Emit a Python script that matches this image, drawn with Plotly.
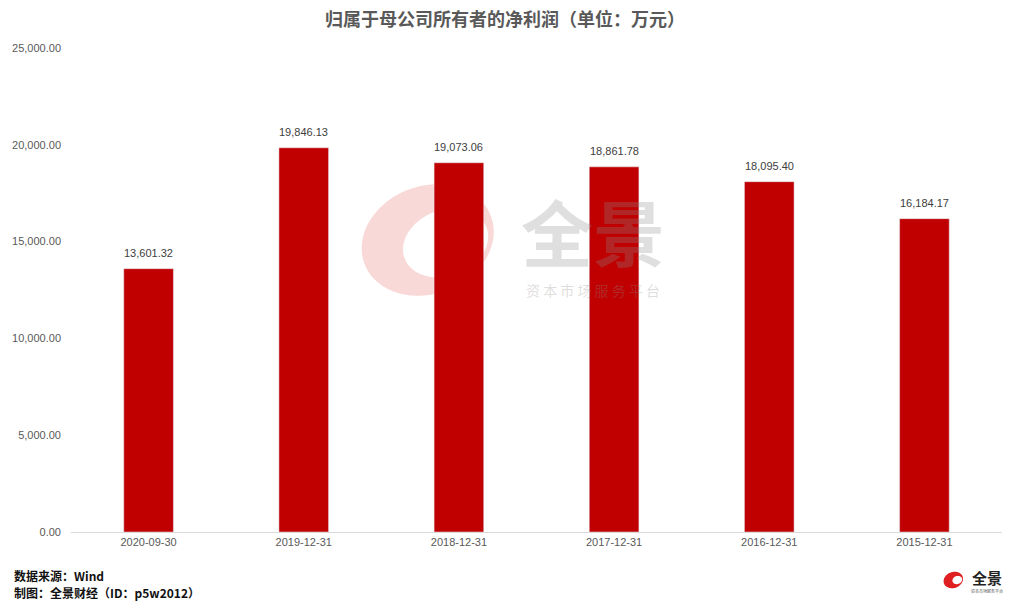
import numpy as np
import plotly.graph_objects as go

categories = ["2020-09-30", "2019-12-31", "2018-12-31", "2017-12-31", "2016-12-31", "2015-12-31"]
values = [13601.32, 19846.13, 19073.06, 18861.78, 18095.40, 16184.17]
y_ticks = [0, 5000, 10000, 15000, 20000, 25000]

W, H = 1015, 601
L, R, T, B = 65, 13, 48, 69
PW, PH = W - L - R, H - T - B

def px(x):
    return (x - L) / PW

def py(y):
    return (H - B - y) / PH

fig = go.Figure()
fig.add_trace(go.Bar(
    x=categories, y=values, marker_color="#C00000", width=0.32,
    hoverinfo="x+y",
))

# value labels
for c, v in zip(categories, values):
    fig.add_annotation(x=c, y=v, text=f"{v:,.2f}", showarrow=False, yshift=16,
                       xanchor="center", yanchor="middle",
                       font=dict(family="Liberation Sans, Arial", size=11, color="#404040"))

def ellipse_pts(cx, cy, rx, ry, rot, n=90, reverse=False):
    t = np.linspace(0, 2 * np.pi, n)
    if reverse:
        t = t[::-1]
    c, s = np.cos(rot), np.sin(rot)
    xs = cx + rx * np.cos(t) * c - ry * np.sin(t) * s
    ys = cy + rx * np.cos(t) * s + ry * np.sin(t) * c
    return " ".join(("M" if i == 0 else "L") + f"{px(x):.4f},{py(y):.4f}" for i, (x, y) in enumerate(zip(xs, ys))) + " Z"

# watermark ring
ring = ellipse_pts(424, 240, 68, 54, -0.35) + " " + ellipse_pts(442, 243, 44, 33, -0.35, reverse=True)
fig.add_shape(type="path", xref="paper", yref="paper", layer="below", path=ring,
              fillcolor="rgba(225,60,60,0.2)", line=dict(width=0))

# watermark text
fig.add_annotation(xref="paper", yref="paper", x=px(590), y=py(230), text="<b>全景</b>", showarrow=False,
                   xanchor="center", yanchor="middle",
                   font=dict(family="Noto Sans CJK SC", size=72, color="rgba(140,140,140,0.28)"))
fig.add_annotation(xref="paper", yref="paper", x=px(590), y=py(290), text="资 本 市 场 服 务 平 台", showarrow=False,
                   xanchor="center", yanchor="middle",
                   font=dict(family="Noto Sans CJK SC", size=14, color="rgba(140,140,140,0.3)"))

# title
fig.add_annotation(xref="paper", yref="paper", x=px(502), y=py(18), text="<b>归属于母公司所有者的净利润（单位：万元）</b>",
                   showarrow=False, xanchor="center", yanchor="middle",
                   font=dict(family="Noto Sans CJK SC", size=18, color="#595959"))

# footer
fig.add_annotation(xref="paper", yref="paper", x=px(6), y=py(575), xanchor="left", yanchor="middle",
                   text="<b>数据来源：Wind</b>",
                   showarrow=False, font=dict(family="Noto Sans CJK SC", size=12, color="#111111"))
fig.add_annotation(xref="paper", yref="paper", x=px(6), y=py(592), xanchor="left", yanchor="middle",
                   text="<b>制图：全景财经（ID：p5w2012）</b>",
                   showarrow=False, font=dict(family="Noto Sans CJK SC", size=12, color="#111111"))

# bottom right logo
logo = ellipse_pts(953, 580, 10, 8, -0.35) + " " + ellipse_pts(957, 580, 5, 4, -0.35, reverse=True)
fig.add_shape(type="path", xref="paper", yref="paper", layer="above", path=logo,
              fillcolor="#E02020", line=dict(width=0))
fig.add_annotation(xref="paper", yref="paper", x=px(987), y=py(577), text="<b>全景</b>", showarrow=False,
                   xanchor="center", yanchor="middle",
                   font=dict(family="Noto Sans CJK SC", size=15, color="#222222"))
fig.add_annotation(xref="paper", yref="paper", x=px(987), y=py(591), text="资本市场服务平台", showarrow=False,
                   xanchor="center", yanchor="middle",
                   font=dict(family="Noto Sans CJK SC", size=4, color="#555555"))

fig.update_layout(
    width=W, height=H, margin=dict(l=L, r=R, t=T, b=B),
    plot_bgcolor="white", paper_bgcolor="white", showlegend=False,
)
fig.update_xaxes(type="category", showgrid=False, showline=True, linecolor="#d9d9d9", linewidth=1, ticks="",
                 tickfont=dict(family="Liberation Sans, Arial", size=11, color="#595959"))
fig.update_yaxes(range=[0, 25000], tickvals=y_ticks, tickformat=",.2f", showgrid=False, zeroline=False,
                 showline=False, ticks="", ticklabelstandoff=9,
                 tickfont=dict(family="Liberation Sans, Arial", size=11, color="#595959"))

fig.write_html("out.html", config={"displayModeBar": False},
               post_script="document.body.style.margin='0px';document.body.style.overflow='hidden';")
